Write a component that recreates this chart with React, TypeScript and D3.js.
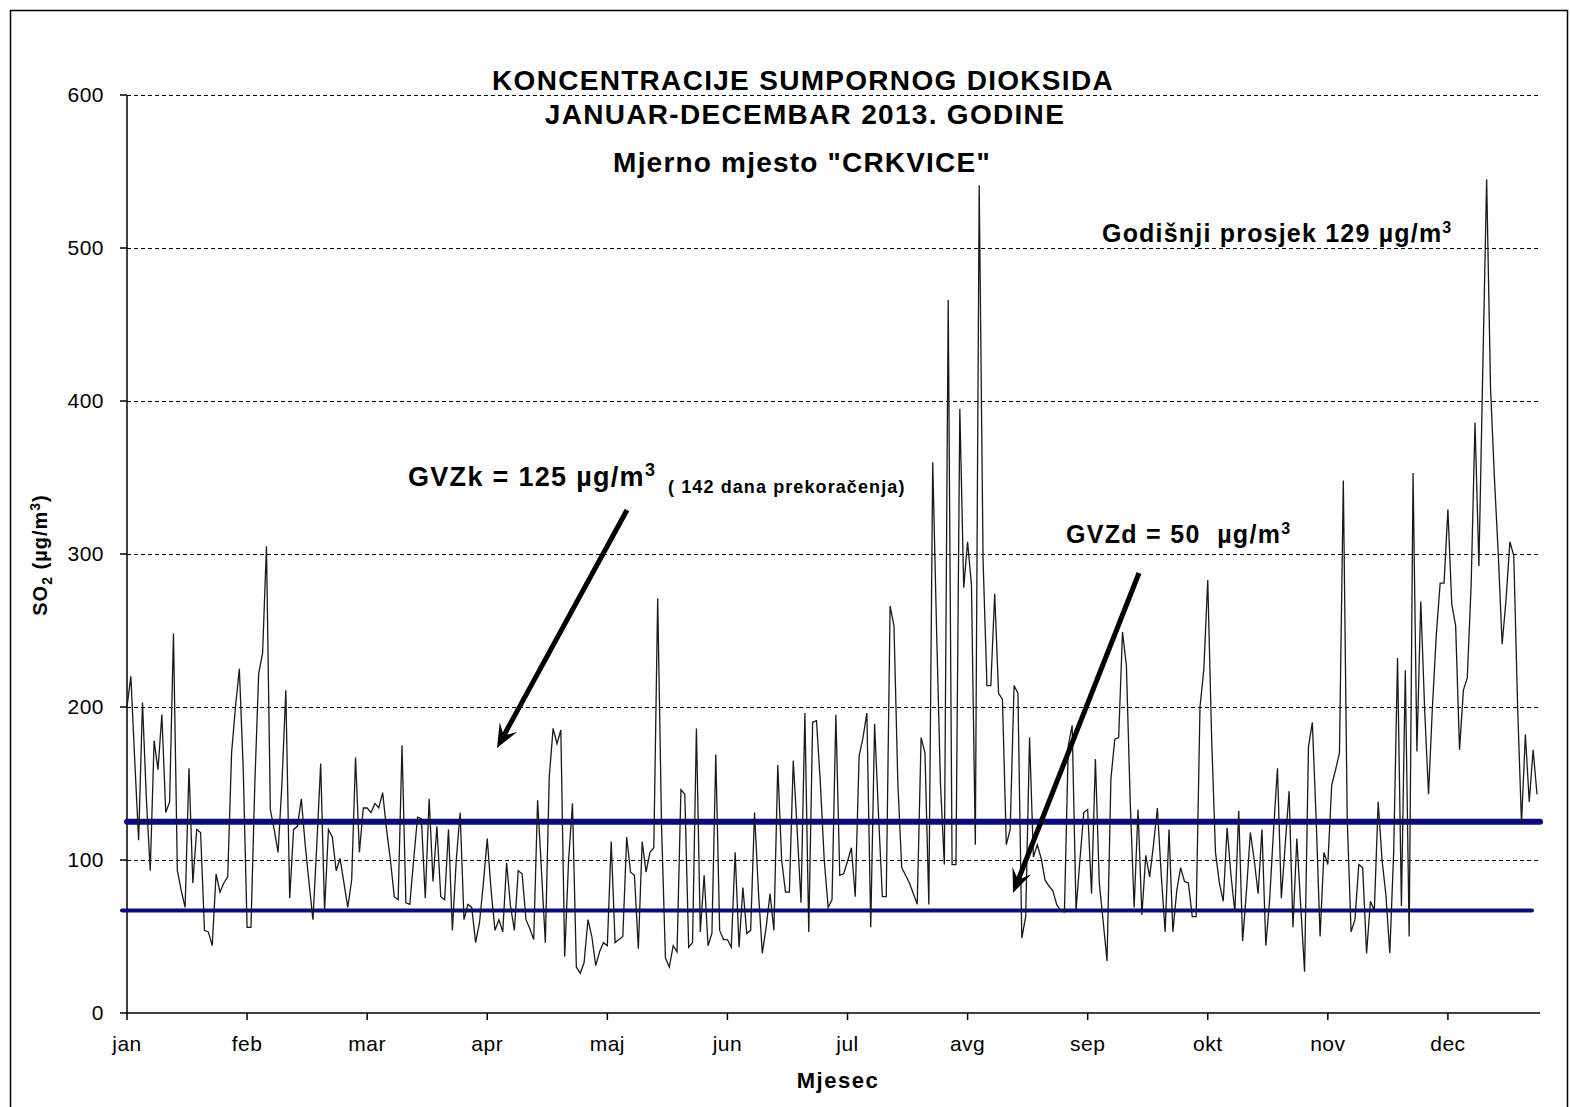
import { useEffect, useRef } from "react"
import * as d3 from "d3"

// Daily SO2 values (µg/m3), split in blocks of 31 days
const block1 = [200, 220, 165, 113, 203, 140, 93, 178, 159, 195, 131, 138, 248, 93, 80, 69, 160, 85, 120, 118, 54, 53, 44, 91, 79, 85, 89, 170, 200, 225, 160]
const block2 = [56, 56, 150, 222, 235, 305, 133, 120, 105, 150, 211, 75, 120, 122, 140, 110, 85, 61, 110, 163, 67, 120, 115, 93, 101, 85, 69, 87, 167, 105, 134]
const block3 = [134, 131, 137, 134, 144, 120, 100, 76, 74, 175, 72, 71, 100, 128, 127, 75, 140, 86, 122, 76, 74, 120, 54, 100, 131, 61, 71, 69, 46, 59, 85]
const block4 = [114, 80, 54, 61, 53, 98, 70, 54, 93, 91, 61, 55, 48, 139, 93, 46, 154, 186, 176, 185, 37, 100, 137, 30, 26, 33, 61, 50, 31, 40, 46]
const block5 = [44, 112, 46, 48, 50, 115, 92, 90, 42, 112, 92, 105, 108, 271, 122, 36, 30, 44, 40, 146, 143, 43, 46, 186, 53, 90, 44, 52, 169, 54, 48]
const block6 = [48, 43, 105, 43, 82, 52, 54, 131, 80, 39, 56, 78, 54, 162, 100, 79, 79, 165, 120, 72, 196, 53, 190, 191, 150, 100, 69, 74, 195, 90, 91]
const block7 = [99, 108, 76, 168, 180, 196, 56, 189, 130, 76, 76, 266, 253, 150, 95, 90, 85, 78, 71, 180, 170, 71, 360, 250, 150, 97, 466, 97, 97, 395, 278]
const block8 = [308, 280, 110, 541, 296, 214, 214, 274, 209, 205, 110, 120, 214, 209, 49, 63, 180, 102, 110, 101, 87, 83, 80, 71, 67, 66, 175, 188, 67, 100, 131]
const block9 = [133, 78, 166, 85, 60, 34, 153, 179, 180, 249, 227, 137, 69, 133, 64, 103, 89, 110, 134, 90, 53, 120, 53, 80, 95, 86, 85, 63, 63, 200, 225]
const block10 = [283, 180, 105, 85, 73, 121, 90, 66, 132, 47, 80, 118, 100, 78, 120, 44, 75, 120, 160, 75, 110, 145, 56, 114, 70, 27, 174, 190, 126, 50, 105]
const block11 = [97, 149, 159, 170, 348, 128, 53, 61, 97, 95, 39, 73, 67, 138, 100, 77, 39, 105, 232, 70, 224, 50, 353, 171, 269, 198, 143, 200, 247, 281, 281]
const block12 = [329, 267, 253, 172, 211, 219, 280, 386, 292, 420, 545, 409, 350, 300, 241, 270, 308, 299, 200, 124, 182, 138, 172, 143]

const monthLabels = ["jan", "feb", "mar", "apr", "maj", "jun", "jul", "avg", "sep", "okt", "nov", "dec"]
const yTicks = [0, 100, 200, 300, 400, 500, 600]
const gvzkLevel = 125
const gvzdLevel = 67

const FONT = "'Liberation Sans', Arial, sans-serif"

export default function App() {
  const svgRef = useRef<SVGSVGElement>(null)

  useEffect(() => {
    if (!svgRef.current) return
    document.body.style.margin = "0"

    const svg = d3.select(svgRef.current)
    svg.selectAll("*").remove()

    const width = 1570
    const height = 1107
    svg.attr("width", width).attr("height", height).style("font-family", FONT)

    svg.append("rect").attr("width", width).attr("height", height).attr("fill", "#ffffff")

    // outer chart border
    svg
      .append("path")
      .attr("d", `M10.5,${height} V10.5 H1567.5 V${height}`)
      .attr("fill", "none")
      .attr("stroke", "#000")
      .attr("stroke-width", 1.5)

    const data = [
      ...block1, ...block2, ...block3, ...block4, ...block5, ...block6,
      ...block7, ...block8, ...block9, ...block10, ...block11, ...block12,
    ]

    const x0 = 127
    const x = d3.scaleLinear().domain([0, data.length - 1]).range([x0, 1537])
    const y = d3.scaleLinear().domain([0, 600]).range([1013, 95])
    const xEnd = 1540

    // dashed gridlines
    svg
      .append("g")
      .selectAll("line")
      .data(yTicks.filter((t) => t > 0))
      .enter()
      .append("line")
      .attr("x1", x0)
      .attr("x2", xEnd)
      .attr("y1", (d) => y(d) + 0.5)
      .attr("y2", (d) => y(d) + 0.5)
      .attr("stroke", "#000")
      .attr("stroke-width", 1)
      .attr("stroke-dasharray", "4,3")

    // y axis
    const yAxis = svg.append("g")
    yAxis
      .append("line")
      .attr("x1", x0)
      .attr("x2", x0)
      .attr("y1", y(600))
      .attr("y2", y(0))
      .attr("stroke", "#000")
      .attr("stroke-width", 1.5)
    const yt = yAxis.selectAll(".yt").data(yTicks).enter().append("g")
    yt.append("line")
      .attr("x1", x0 - 7)
      .attr("x2", x0)
      .attr("y1", (d) => y(d))
      .attr("y2", (d) => y(d))
      .attr("stroke", "#000")
      .attr("stroke-width", 1.5)
    yt.append("text")
      .attr("x", 104)
      .attr("y", (d) => y(d))
      .attr("dy", "0.35em")
      .attr("text-anchor", "end")
      .style("font-size", "21px")
      .style("letter-spacing", "0.5px")
      .style("fill", "#000")
      .text((d) => d)

    // x axis
    const xAxis = svg.append("g")
    xAxis
      .append("line")
      .attr("x1", x0)
      .attr("x2", xEnd)
      .attr("y1", y(0))
      .attr("y2", y(0))
      .attr("stroke", "#000")
      .attr("stroke-width", 1.5)
    const xt = xAxis
      .selectAll(".xt")
      .data(monthLabels)
      .enter()
      .append("g")
    xt.append("line")
      .attr("x1", (d, i) => x(i * 31))
      .attr("x2", (d, i) => x(i * 31))
      .attr("y1", y(0))
      .attr("y2", y(0) + 7)
      .attr("stroke", "#000")
      .attr("stroke-width", 1.5)
    xt.append("text")
      .attr("x", (d, i) => x(i * 31))
      .attr("y", 1051)
      .attr("text-anchor", "middle")
      .style("font-size", "21px")
      .style("letter-spacing", "0.5px")
      .style("fill", "#000")
      .text((d) => d)

    // threshold lines
    svg
      .append("line")
      .attr("x1", x0)
      .attr("x2", xEnd)
      .attr("y1", y(gvzkLevel))
      .attr("y2", y(gvzkLevel))
      .attr("stroke", "#0b0b80")
      .attr("stroke-width", 6)
      .attr("stroke-linecap", "round")
    svg
      .append("line")
      .attr("x1", 122)
      .attr("x2", 1532)
      .attr("y1", y(gvzdLevel))
      .attr("y2", y(gvzdLevel))
      .attr("stroke", "#0b0b80")
      .attr("stroke-width", 4)
      .attr("stroke-linecap", "round")

    // daily line
    const line = d3
      .line<number>()
      .x((d, i) => x(i))
      .y((d) => y(d))
    svg
      .append("path")
      .datum(data)
      .attr("d", line)
      .attr("fill", "none")
      .attr("stroke", "#1a1a1a")
      .attr("stroke-width", 1.3)
      .attr("stroke-linejoin", "miter")

    // titles
    const title = svg.append("g").style("font-weight", "bold").style("fill", "#000").attr("text-anchor", "middle")
    title.append("text").attr("x", 803).attr("y", 90).style("font-size", "28px").style("letter-spacing", "1.3px").text("KONCENTRACIJE SUMPORNOG DIOKSIDA")
    title.append("text").attr("x", 805).attr("y", 124).style("font-size", "28px").style("letter-spacing", "1.3px").text("JANUAR-DECEMBAR 2013. GODINE")
    title.append("text").attr("x", 802).attr("y", 172).style("font-size", "28px").style("letter-spacing", "1.2px").text('Mjerno mjesto "CRKVICE"')

    // annual average
    const avg = svg.append("text").attr("x", 1102).attr("y", 242).style("font-size", "25px").style("font-weight", "bold").style("letter-spacing", "1.2px")
    avg.append("tspan").text("Godišnji prosjek 129 µg/m")
    avg.append("tspan").attr("dy", -9).style("font-size", "16px").text("3")

    // GVZk label
    const gk = svg.append("text").attr("x", 408).attr("y", 486).style("font-size", "27px").style("font-weight", "bold").style("letter-spacing", "1.3px")
    gk.append("tspan").text("GVZk = 125 µg/m")
    gk.append("tspan").attr("dy", -10).style("font-size", "18px").text("3")
    svg
      .append("text")
      .attr("x", 668)
      .attr("y", 493)
      .style("font-size", "18px")
      .style("font-weight", "bold")
      .style("letter-spacing", "1.1px")
      .text("( 142 dana prekoračenja)")

    // GVZd label
    const gd = svg
      .append("text")
      .attr("x", 1066)
      .attr("y", 543)
      .style("font-size", "25px")
      .style("font-weight", "bold")
      .style("letter-spacing", "1.3px")
      .style("white-space", "pre")
    gd.append("tspan").text("GVZd = 50  µg/m")
    gd.append("tspan").attr("dy", -9).style("font-size", "16px").text("3")

    // arrows
    const drawArrow = (xa: number, ya: number, xb: number, yb: number) => {
      const ang = Math.atan2(yb - ya, xb - xa)
      const len = 24
      const back = 14
      const wing = 10
      const bx = xb - Math.cos(ang) * len
      const by = yb - Math.sin(ang) * len
      const nx = -Math.sin(ang)
      const ny = Math.cos(ang)
      const ix = xb - Math.cos(ang) * back
      const iy = yb - Math.sin(ang) * back
      svg
        .append("line")
        .attr("x1", xa)
        .attr("y1", ya)
        .attr("x2", ix)
        .attr("y2", iy)
        .attr("stroke", "#000")
        .attr("stroke-width", 5)
      svg
        .append("path")
        .attr(
          "d",
          `M${xb},${yb} L${bx + nx * wing},${by + ny * wing} L${ix},${iy} L${bx - nx * wing},${by - ny * wing} Z`
        )
        .attr("fill", "#000")
    }
    drawArrow(627, 510, 497, 748)
    drawArrow(1139, 573, 1013, 893)

    // axis titles
    svg
      .append("text")
      .attr("x", 838)
      .attr("y", 1088)
      .attr("text-anchor", "middle")
      .style("font-size", "22px")
      .style("font-weight", "bold")
      .style("letter-spacing", "1.5px")
      .text("Mjesec")

    const yt2 = svg
      .append("text")
      .attr("transform", "translate(47,555) rotate(-90)")
      .attr("text-anchor", "middle")
      .style("font-size", "20px")
      .style("font-weight", "bold")
      .style("letter-spacing", "1px")
    yt2.append("tspan").text("SO")
    yt2.append("tspan").attr("dy", 5).style("font-size", "14px").text("2")
    yt2.append("tspan").attr("dy", -5).text(" (µg/m")
    yt2.append("tspan").attr("dy", -7).style("font-size", "14px").text("3")
    yt2.append("tspan").attr("dy", 7).text(")")
  }, [])

  return <svg ref={svgRef}></svg>
}
